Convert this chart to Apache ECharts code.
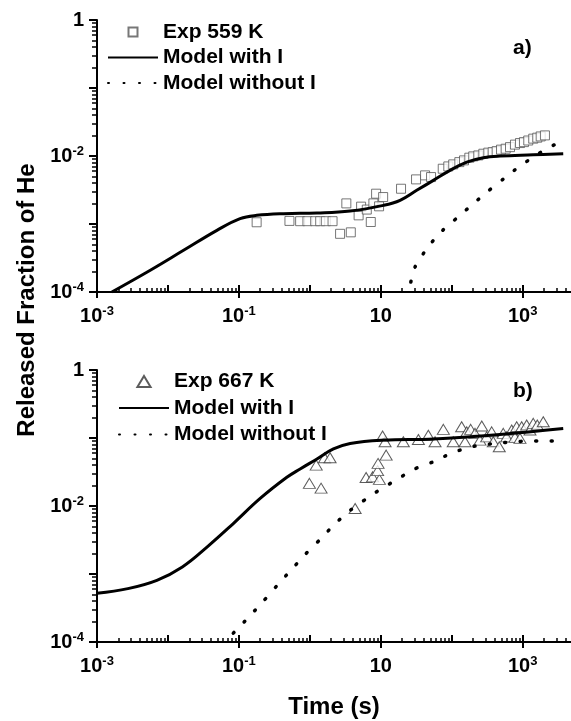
<!DOCTYPE html>
<html>
<head>
<meta charset="utf-8">
<script src="https://cdn.jsdelivr.net/npm/echarts@6/dist/echarts.min.js"></script>
<style>
  html, body { margin: 0; padding: 0; background: #fff; }
  #chart { width: 571px; height: 721px; }
</style>
</head>
<body>
<div id="chart"></div>
<script>
var FONT = '"Liberation Sans", Arial, sans-serif';

// axes
var xMin = 0.001, xMax = 4800;
var yMin = 1e-4, yMax = 1;
var xLabelValues = [0.001, 0.1, 10, 1000];
var xDecades = [0.001, 0.01, 0.1, 1, 10, 100, 1000];
var yLabelValues = [1e-4, 1e-2, 1];
var yDecades = [1e-4, 1e-3, 1e-2, 1e-1, 1];
var minorSteps = [2, 3, 4, 5, 6, 7, 8, 9];

// panel a) - 559 K
var expTimeA = [0.178, 0.516, 0.730, 0.925, 1.19, 1.40, 1.68, 2.09, 2.67, 3.78, 3.27, 4.87, 5.28, 6.35, 7.23, 7.87, 8.59, 9.46, 10.8,
  19.3, 31.4, 42.1, 51.1, 74.7, 89.5, 105, 128, 149, 177, 201, 237, 279, 328, 378, 430, 495, 576, 663, 779, 917, 1043, 1199, 1410, 1606, 1794, 2061];
var expFracA = [1.06e-3, 1.11e-3, 1.10e-3, 1.10e-3, 1.10e-3, 1.10e-3, 1.10e-3, 1.10e-3, 7.17e-4, 7.54e-4, 2.01e-3, 1.34e-3, 1.80e-3, 1.63e-3, 1.07e-3, 2.01e-3, 2.79e-3, 1.82e-3, 2.49e-3,
  3.30e-3, 4.53e-3, 5.19e-3, 4.90e-3, 6.50e-3, 7.03e-3, 7.53e-3, 8.13e-3, 8.62e-3, 9.44e-3, 9.87e-3, 1.02e-2, 1.08e-2, 1.12e-2, 1.14e-2, 1.18e-2, 1.24e-2, 1.28e-2, 1.35e-2, 1.47e-2, 1.55e-2, 1.60e-2, 1.69e-2, 1.80e-2, 1.86e-2, 1.94e-2, 2.01e-2];
var withTimeA = [0.00162, 0.00564, 0.0166, 0.049, 0.104, 0.179, 0.425, 1.26, 3.70, 10.9, 18.7, 32.1, 55.1, 94.6, 163, 279, 479, 1410, 3730];
var withFracA = [1.0e-4, 2.09e-4, 4.10e-4, 8.07e-4, 1.20e-3, 1.34e-3, 1.42e-3, 1.45e-3, 1.55e-3, 1.88e-3, 2.23e-3, 3.13e-3, 4.38e-3, 6.14e-3, 8.13e-3, 9.44e-3, 9.98e-3, 1.04e-2, 1.08e-2];
var withoutTimeA = [26.5, 30.4, 46.9, 74.6, 122, 198, 327, 533, 867, 1410, 2371, 3945];
var withoutFracA = [1.4e-4, 2.33e-4, 4.69e-4, 8.07e-4, 1.26e-3, 1.96e-3, 3.05e-3, 4.58e-3, 6.81e-3, 9.64e-3, 1.35e-2, 1.69e-2];

// panel b) - 667 K
var expTimeB = [1.23, 0.986, 1.44, 1.61, 1.93, 4.35, 6.21, 7.67, 9.56, 9.02, 9.16, 11.9, 11.5, 10.6, 20.8, 33.9, 46.8, 58.2, 76.2, 105, 138, 154,
  163, 185, 213, 250, 265, 311, 366, 385, 468, 533, 595, 700, 779, 823, 916, 968, 1138, 1267, 1410, 1606, 1951];
var expFracB = [3.99e-2, 2.15e-2, 1.83e-2, 5.11e-2, 5.11e-2, 9.18e-3, 2.63e-2, 2.68e-2, 2.46e-2, 3.31e-2, 4.23e-2, 5.60e-2, 8.79e-2, 0.107, 8.79e-2, 9.53e-2, 0.110, 8.79e-2, 0.134, 8.79e-2, 0.146, 8.79e-2,
  0.123, 0.134, 0.117, 9.31e-2, 0.150, 0.104, 0.123, 8.79e-2, 7.42e-2, 0.117, 0.104, 0.131, 0.102, 0.146, 9.87e-2, 0.146, 0.155, 0.131, 0.164, 0.155, 0.173];
var withTimeB = [0.001, 0.00272, 0.00698, 0.01596, 0.0365, 0.0834, 0.1995, 0.474, 0.730, 1.26, 2.15, 3.70, 10.9, 55.1, 479, 3730];
var withFracB = [5.2e-4, 6.09e-4, 8.07e-4, 1.27e-3, 2.55e-3, 5.52e-3, 1.29e-2, 2.64e-2, 3.51e-2, 4.92e-2, 6.90e-2, 8.32e-2, 9.31e-2, 9.70e-2, 0.113, 0.138];
var withoutTimeB = [0.0834, 0.138, 0.220, 0.344, 0.538, 0.865, 1.39, 2.28, 3.74, 6.35, 10.3, 16.8, 28.8, 55.1, 92.5, 154, 251, 431, 738, 1200, 1950, 3170, 4000];
var withoutFracB = [1.35e-4, 2.33e-4, 3.96e-4, 6.75e-4, 1.13e-3, 1.95e-3, 3.21e-3, 5.52e-3, 8.67e-3, 1.29e-2, 1.81e-2, 2.44e-2, 3.45e-2, 4.47e-2, 5.79e-2, 7.03e-2, 7.85e-2, 8.32e-2, 8.79e-2, 9.00e-2, 9.00e-2, 9.00e-2, 9.00e-2];

function pairs(xs, ys) {
  return xs.map(function (x, i) { return [x, ys[i]]; });
}

function minors(decades, max) {
  var out = [];
  decades.forEach(function (d) {
    minorSteps.forEach(function (m) {
      var v = +(d * m).toPrecision(3);
      if (v <= max) out.push(v);
    });
  });
  return out;
}

function powLabel(v) {
  var e = Math.round(Math.log10(v));
  if (e === 0) return '1';
  if (e === 1) return '10';
  return '10{sup|' + e + '}';
}

var labelStyle = {
  color: '#000', fontSize: 20, fontWeight: 'bold', fontFamily: FONT, lineHeight: 22,
  rich: { sup: { fontSize: 13, fontWeight: 'bold', fontFamily: FONT, color: '#000', verticalAlign: 'top', lineHeight: 13 } }
};

function xAxes(grid, withName) {
  var base = {
    type: 'log', logBase: 10, gridIndex: grid, position: 'bottom', min: xMin, max: xMax,
    splitLine: { show: false }, axisLine: { show: false }, axisLabel: { show: false }, axisTick: { show: false }
  };
  var main = Object.assign({}, base, {
    axisLine: { show: true, onZero: false, lineStyle: { color: '#000', width: 2 } },
    axisTick: { show: true, inside: false, length: 6, customValues: xLabelValues, lineStyle: { color: '#000', width: 2 } },
    axisLabel: Object.assign({ show: true, margin: 13, customValues: xLabelValues, formatter: powLabel }, labelStyle)
  });
  if (withName) {
    Object.assign(main, {
      name: 'Time (s)', nameLocation: 'middle', nameGap: 53,
      nameTextStyle: { color: '#000', fontSize: 24, fontWeight: 'bold', fontFamily: FONT }
    });
  }
  var decade = Object.assign({}, base, {
    axisTick: { show: true, inside: true, length: 7, customValues: xDecades, lineStyle: { color: '#000', width: 2 } }
  });
  var minor = Object.assign({}, base, {
    axisTick: { show: true, inside: true, length: 4, customValues: minors(xDecades, xMax), lineStyle: { color: '#000', width: 1.5 } }
  });
  return [main, decade, minor];
}

function yAxes(grid) {
  var base = {
    type: 'log', logBase: 10, gridIndex: grid, position: 'left', min: yMin, max: yMax,
    splitLine: { show: false }, axisLine: { show: false }, axisLabel: { show: false }, axisTick: { show: false }
  };
  var main = Object.assign({}, base, {
    axisLine: { show: true, onZero: false, lineStyle: { color: '#000', width: 2 } },
    axisTick: { show: true, inside: false, length: 8, customValues: yDecades, lineStyle: { color: '#000', width: 2 } },
    axisLabel: Object.assign({ show: true, margin: 13, customValues: yLabelValues, formatter: powLabel }, labelStyle)
  });
  var minor = Object.assign({}, base, {
    axisTick: { show: true, inside: false, length: 5, customValues: minors(yDecades, yMax), lineStyle: { color: '#000', width: 1.5 } }
  });
  return [main, minor];
}

var squareIcon = 'path://M0,0L10,0L10,10L0,10Z';
var triangleIcon = 'path://M6,0L12,10L0,10Z';
var noSymbol = { opacity: 0 };

var legendText = { color: '#000', fontSize: 21, fontWeight: 'bold', fontFamily: FONT, lineHeight: 22 };

function modelSeries(name, xi, yi, xs, ys, dotted) {
  return {
    name: name, type: 'line', xAxisIndex: xi, yAxisIndex: yi,
    data: pairs(xs, ys), symbol: 'none', showSymbol: false,
    smooth: dotted ? 0.2 : 0.4, clip: true,
    itemStyle: { color: '#000' },
    lineStyle: dotted
      ? { color: '#000', width: 3.5, type: [1, 14.5], cap: 'round' }
      : { color: '#000', width: 3 }
  };
}

var chart = echarts.init(document.getElementById('chart'), null, { renderer: 'canvas' });

var option = {
  animation: false,
  backgroundColor: '#fff',
  grid: [
    { left: 97, top: 20, right: 0, height: 272 },
    { left: 97, top: 370, right: 0, height: 272 }
  ],
  xAxis: xAxes(0, false).concat(xAxes(1, true)),
  yAxis: yAxes(0).concat(yAxes(1)),
  legend: [
    {
      orient: 'vertical', left: 102, top: 16, itemWidth: 50, itemHeight: 9, itemGap: 3.5,
      selectedMode: false, textStyle: legendText,
      data: [
        { name: 'Exp 559 K', icon: squareIcon },
        { name: 'Model with I', itemStyle: noSymbol },
        { name: 'Model without I', itemStyle: noSymbol }
      ]
    },
    {
      orient: 'vertical', left: 113, top: 365.5, itemWidth: 50, itemHeight: 11, itemGap: 4.5,
      selectedMode: false, textStyle: legendText,
      data: [
        { name: 'Exp 667 K', icon: triangleIcon },
        { name: 'Model with I', itemStyle: noSymbol },
        { name: 'Model without I', itemStyle: noSymbol }
      ]
    }
  ],
  graphic: [
    {
      type: 'text', x: 513, y: 48,
      style: { text: 'a)', fill: '#000', fontSize: 21, fontWeight: 'bold', fontFamily: FONT, align: 'left', verticalAlign: 'middle' }
    },
    {
      type: 'text', x: 513, y: 391,
      style: { text: 'b)', fill: '#000', fontSize: 21, fontWeight: 'bold', fontFamily: FONT, align: 'left', verticalAlign: 'middle' }
    },
    {
      type: 'text', x: 27, y: 300, rotation: Math.PI / 2,
      style: { text: 'Released Fraction of He', fill: '#000', fontSize: 24, fontWeight: 'bold', fontFamily: FONT, align: 'center', verticalAlign: 'middle' }
    }
  ],
  series: [
    {
      name: 'Exp 559 K', type: 'scatter', xAxisIndex: 0, yAxisIndex: 0,
      data: pairs(expTimeA, expFracA), symbol: 'rect', symbolSize: 9,
      itemStyle: { color: '#fff', borderColor: '#555', borderWidth: 1 }
    },
    modelSeries('Model with I', 0, 0, withTimeA, withFracA, false),
    modelSeries('Model without I', 0, 0, withoutTimeA, withoutFracA, true),
    {
      name: 'Exp 667 K', type: 'scatter', xAxisIndex: 3, yAxisIndex: 2,
      data: pairs(expTimeB, expFracB), symbol: 'triangle', symbolSize: [12, 10],
      itemStyle: { color: '#fff', borderColor: '#333', borderWidth: 1 }
    },
    modelSeries('Model with I', 3, 2, withTimeB, withFracB, false),
    modelSeries('Model without I', 3, 2, withoutTimeB, withoutFracB, true)
  ]
};

chart.setOption(option);
</script>
</body>
</html>
